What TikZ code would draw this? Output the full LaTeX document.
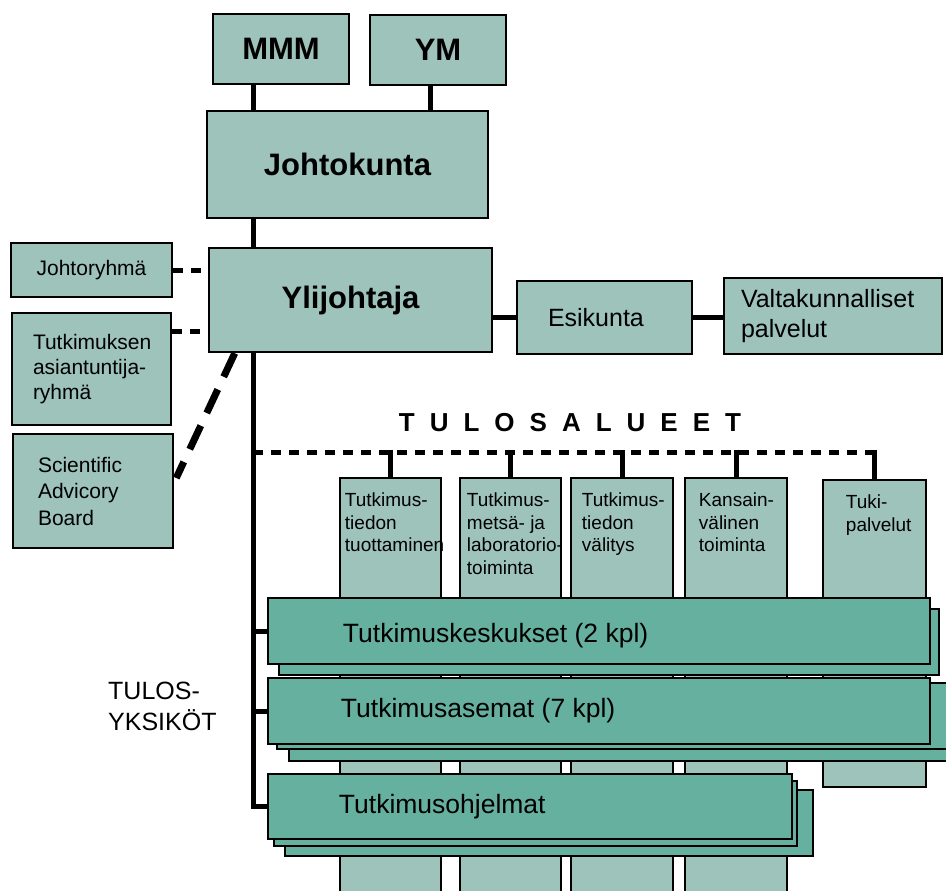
\documentclass[tikz,border=0pt]{standalone}
\usepackage{fontspec}
\setmainfont{Liberation Sans}
\definecolor{boxgreen}{RGB}{157,195,186}
\definecolor{unitgreen}{RGB}{102,176,160}

\begin{document}
\begin{tikzpicture}
  [
    x=1pt, y=-1pt,
    block/.style =
      {draw, line width=2.5pt, fill=boxgreen, inner sep=0pt, align=center},
    head/.style =
      {block, font=\fontsize{31}{36}\selectfont\bfseries},
    side/.style =
      {block, align=left, font=\fontsize{21}{25}\selectfont},
    staff/.style =
      {block, align=left, font=\fontsize{25}{30}\selectfont},
    areatext/.style =
      {anchor=north west, inner sep=0pt, align=left, yshift=-16pt,
       font=\fontsize{19}{22.5}\selectfont},
    unit/.style =
      {draw, line width=2.5pt, fill=unitgreen, inner sep=0pt},
    unittext/.style =
      {anchor=west, inner sep=0pt, font=\fontsize{26.5}{30}\selectfont},
    link/.style = {line width=5pt},
    dots/.style = {line width=5pt, dash pattern=on 10pt off 8pt}
  ]
  \path [use as bounding box, clip] (0,0) rectangle (946,891);

  \coordinate (trunk) at (253,0);
  \coordinate (areas) at (253,452);

  \node [head, minimum width=136pt, minimum height=70pt]  at (281,49)    (mmm) {MMM};
  \node [head, minimum width=136pt, minimum height=70pt]  at (438,50)    (ym)  {YM};
  \node [head, minimum width=281pt, minimum height=107pt] at (347.5,164.5) (jk) {Johtokunta};
  \node [head, minimum width=283pt, minimum height=104pt] at (350.5,300) (yj)  {Ylijohtaja};

  \node [side, minimum width=161pt, minimum height=54pt]  at (91.5,270)  (jr)  {Johtoryhmä};
  \node [side, minimum width=159pt, minimum height=112pt, text width=117pt]
    at (91.5,369) (ta) {Tutkimuksen\\asiantuntija-\\ryhmä};
  \node [side, minimum width=160pt, minimum height=114pt, text width=110pt,
    font=\fontsize{21}{26.5}\selectfont]
    at (93,491) (sab) {Scientific\\Advicory\\Board};

  \node [staff, minimum width=175pt, minimum height=73pt, text width=113pt]
    at (604.5,317.5) (es) {Esikunta};
  \node [staff, minimum width=218pt, minimum height=76pt, text width=184pt]
    at (833,316) (vp) {Valtakunnalliset\\palvelut};

  \node [inner sep=0pt, font=\fontsize{26}{30}\selectfont\bfseries] at (570,423) (tulos)
    {T\hspace{15pt}U\hspace{15pt}L\hspace{15pt}O\hspace{15pt}S\hspace{15pt}A\hspace{15pt}L\hspace{15pt}U\hspace{15pt}E\hspace{15pt}E\hspace{15pt}T};
  \node [anchor=north west, inner sep=0pt, align=left, font=\fontsize{25}{31}\selectfont]
    at (108,682) (yks) {TULOS-\\YKSIKÖT};

  % upper links
  \draw [link] (mmm.south -| trunk)           -- (jk.north -| trunk);
  \draw [link] ([xshift=-8pt]ym.south)        -- ([xshift=-8pt]ym.south |- jk.north);
  \draw [link] (jk.south -| trunk)            -- (yj.north -| trunk);
  \draw [link] (es.west -| yj.east)           -- (es.west);
  \draw [link] (es.east)                      -- (es.east -| vp.west);
  \draw [dots] (jr.east)                      -- (jr.east -| yj.west);
  \draw [dots] ([yshift=-31pt]yj.west -| ta.east) -- ([yshift=-31pt]yj.west);
  \draw [line width=7pt, dash pattern=on 26pt off 14pt]
    ([xshift=27pt]yj.south west) -- ([xshift=2pt, yshift=13pt]sab.east);

  % tulosalueet
  \node [block, minimum width=101pt, minimum height=427pt, label={[areatext, xshift=6pt]north west:Tutkimus-\\tiedon\\tuottaminen}]
    at (390.5,691.5) (c1) {};
  \node [block, minimum width=101pt, minimum height=427pt, label={[areatext, xshift=8pt]north west:Tutkimus-\\metsä- ja\\laboratorio-\\toiminta}]
    at (510.5,691.5) (c2) {};
  \node [block, minimum width=102pt, minimum height=427pt, label={[areatext, xshift=12pt]north west:Tutkimus-\\tiedon\\välitys}]
    at (622,691.5) (c3) {};
  \node [block, minimum width=102pt, minimum height=427pt, label={[areatext, xshift=15pt]north west:Kansain-\\välinen\\toiminta}]
    at (736,691.5) (c4) {};
  \node [block, minimum width=103pt, minimum height=307pt, label={[areatext, xshift=24pt]north west:Tuki-\\palvelut}]
    at (874.5,633.5) (c5) {};

  \draw [dots] (areas)                -- (areas -| c5.north);
  \draw [link] ([yshift=2.5pt]areas -| c1.north) -- (c1.north);
  \draw [link] ([yshift=2.5pt]areas -| c2.north) -- (c2.north);
  \draw [link] ([yshift=2.5pt]areas -| c3.north) -- (c3.north);
  \draw [link] ([yshift=2.5pt]areas -| c4.north) -- (c4.north);
  \draw [link] ([yshift=2.5pt]areas -| c5.north) -- (c5.north);

  % tulosyksiköt
  \draw [link] (yj.south -| trunk) |- (806.5,806.5) coordinate (k3end);
  \node [unit, minimum width=660pt, minimum height=66pt] at (609,642)     (k1s) {};
  \node [unit, minimum width=662pt, minimum height=66pt,
    label={[unittext, xshift=76pt, yshift=-5pt]west:Tutkimuskeskukset (2 kpl)}]
    at (599,631) (k1) {};
  \node [unit, minimum width=671pt, minimum height=66pt] at (624.5,728)   (k2b) {};
  \node [unit, minimum width=683pt, minimum height=66pt] at (618.5,716)   (k2a) {};
  \node [unit, minimum width=662pt, minimum height=66pt,
    label={[unittext, xshift=74pt]west:Tutkimusasemat (7 kpl)}]
    at (599,711) (k2) {};
  \node [unit, minimum width=528pt, minimum height=66pt] at (549,823)     (k3b) {};
  \node [unit, minimum width=523pt, minimum height=65pt] at (535.5,813.5) (k3a) {};
  \node [unit, minimum width=524pt, minimum height=65pt,
    label={[unittext, xshift=72pt]west:Tutkimusohjelmat}]
    at (530,806.5) (k3) {};

  \draw [link] (trunk |- k1.west) -- (k1.west);
  \draw [link] (trunk |- k2.west) -- (k2.west);
  \draw [link] (trunk |- k3.west) -- (k3.west);
\end{tikzpicture}
\end{document}
